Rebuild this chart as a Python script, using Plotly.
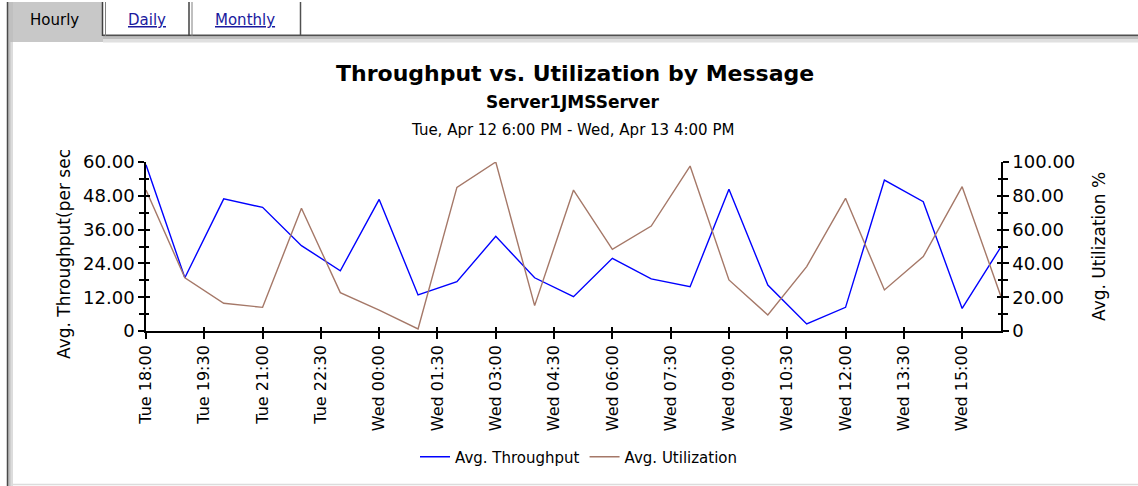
import plotly.graph_objects as go

# ---- data ----
times = [
    "2011-04-12 18:00", "2011-04-12 19:00", "2011-04-12 20:00", "2011-04-12 21:00",
    "2011-04-12 22:00", "2011-04-12 23:00", "2011-04-13 00:00", "2011-04-13 01:00",
    "2011-04-13 02:00", "2011-04-13 03:00", "2011-04-13 04:00", "2011-04-13 05:00",
    "2011-04-13 06:00", "2011-04-13 07:00", "2011-04-13 08:00", "2011-04-13 09:00",
    "2011-04-13 10:00", "2011-04-13 11:00", "2011-04-13 12:00", "2011-04-13 13:00",
    "2011-04-13 14:00", "2011-04-13 15:00", "2011-04-13 16:00",
]
throughput = [59.0, 18.9, 46.9, 43.9, 30.3, 21.4, 46.7, 12.8, 17.5, 33.6, 18.9, 12.2,
              25.8, 18.5, 15.7, 50.3, 16.3, 2.5, 8.4, 53.6, 45.9, 8.0, 29.9]
utilization = [83.4, 31.5, 16.4, 14.0, 72.6, 22.7, 12.4, 1.2, 85.0, 100.0, 15.0, 83.4,
               48.3, 62.1, 97.6, 30.2, 9.5, 38.1, 78.5, 24.3, 44.0, 85.4, 20.3]

tick_times = [
    "2011-04-12 18:00", "2011-04-12 19:30", "2011-04-12 21:00", "2011-04-12 22:30",
    "2011-04-13 00:00", "2011-04-13 01:30", "2011-04-13 03:00", "2011-04-13 04:30",
    "2011-04-13 06:00", "2011-04-13 07:30", "2011-04-13 09:00", "2011-04-13 10:30",
    "2011-04-13 12:00", "2011-04-13 13:30", "2011-04-13 15:00",
]
tick_labels = [
    "Tue 18:00", "Tue 19:30", "Tue 21:00", "Tue 22:30", "Wed 00:00", "Wed 01:30",
    "Wed 03:00", "Wed 04:30", "Wed 06:00", "Wed 07:30", "Wed 09:00", "Wed 10:30",
    "Wed 12:00", "Wed 13:30", "Wed 15:00",
]
left_tickvals = [0, 12, 24, 36, 48, 60]
left_ticktext = ["0", "12.00", "24.00", "36.00", "48.00", "60.00"]
right_tickvals = [0, 20, 40, 60, 80, 100]
right_ticktext = ["0", "20.00", "40.00", "60.00", "80.00", "100.00"]

# ---- layout geometry (pixels) ----
W, H = 1138, 486
L, R, T, B = 146, 1001, 162, 331
FONT = "DejaVu Sans"


def px(x):
    return (x - L) / (R - L)


def py(y):
    return (B - y) / (B - T)


fig = go.Figure()
fig.add_trace(go.Scatter(x=times, y=throughput, name="Avg. Throughput", mode="lines",
                         line=dict(color="#0000ff", width=1.4), yaxis="y"))
fig.add_trace(go.Scatter(x=times, y=utilization, name="Avg. Utilization", mode="lines",
                         line=dict(color="#a57868", width=1.4), yaxis="y2"))
# empty helper traces so the "inside tick" overlay axes are drawn
for xa, ya in (("x2", "y"), ("x", "y3"), ("x", "y4")):
    fig.add_trace(go.Scatter(x=[], y=[], xaxis=xa, yaxis=ya, showlegend=False,
                             hoverinfo="skip", mode="lines"))

axis_common = dict(showgrid=False, zeroline=False, showline=True, linecolor="black",
                   linewidth=1.5, ticks="outside", tickcolor="black", ticklen=6, tickwidth=1.5)
inside_common = dict(showgrid=False, zeroline=False, showline=False, ticks="inside",
                     tickcolor="black", ticklen=4, tickwidth=1.5, showticklabels=False)

fig.update_layout(
    width=W, height=H,
    margin=dict(l=L, r=W - R, t=T, b=H - B),
    paper_bgcolor="white", plot_bgcolor="white",
    font=dict(family=FONT, color="black"),
    showlegend=True,
    legend=dict(orientation="h", x=px(579), xanchor="center", y=py(457), yanchor="middle",
                font=dict(family=FONT, size=15, color="black"), bgcolor="rgba(0,0,0,0)",
                itemwidth=30, tracegroupgap=0),
    xaxis=dict(type="date", range=[times[0], times[-1]], tickmode="array",
               tickvals=tick_times, ticktext=tick_labels, tickangle=-90,
               tickfont=dict(family=FONT, size=16, color="black"), **axis_common),
    xaxis2=dict(type="date", range=[times[0], times[-1]], overlaying="x", anchor="y",
                side="bottom", tickmode="array", tickvals=tick_times, **inside_common),
    yaxis=dict(range=[0, 60], tickmode="array", tickvals=left_tickvals, ticktext=left_ticktext,
               tickfont=dict(family=FONT, size=18, color="black"),
               minor=dict(tickmode="linear", tick0=0, dtick=6, ticks="outside", ticklen=5,
                          tickcolor="black", tickwidth=1.5, showgrid=False),
               **axis_common),
    yaxis2=dict(range=[0, 100], overlaying="y", side="right", tickmode="array",
                tickvals=right_tickvals, ticktext=right_ticktext,
                tickfont=dict(family=FONT, size=18, color="black"),
                minor=dict(tickmode="linear", tick0=0, dtick=10, ticks="outside", ticklen=5,
                           tickcolor="black", tickwidth=1.5, showgrid=False),
                **axis_common),
    yaxis3=dict(range=[0, 60], overlaying="y", side="left", anchor="x", tickmode="array",
                tickvals=left_tickvals,
                minor=dict(tickmode="linear", tick0=0, dtick=6, ticks="inside", ticklen=3,
                           tickcolor="black", tickwidth=1.5, showgrid=False),
                **inside_common),
    yaxis4=dict(range=[0, 100], overlaying="y", side="right", anchor="x", tickmode="array",
                tickvals=right_tickvals,
                minor=dict(tickmode="linear", tick0=0, dtick=10, ticks="inside", ticklen=3,
                           tickcolor="black", tickwidth=1.5, showgrid=False),
                **inside_common),
)

shapes = []


def rect(x0, y0, x1, y1, fill, line_color=None, lw=0):
    shapes.append(dict(type="rect", xref="paper", yref="paper",
                       x0=px(x0), x1=px(x1), y0=py(y0), y1=py(y1),
                       fillcolor=fill, line=dict(width=lw, color=line_color or fill), layer="below"))


def line(x0, y0, x1, y1, color, lw=1):
    shapes.append(dict(type="line", xref="paper", yref="paper",
                       x0=px(x0), x1=px(x1), y0=py(y0), y1=py(y1),
                       line=dict(color=color, width=lw), layer="below"))


# selected "Hourly" tab
rect(7, 2, 103, 42, "#c8c8c8")
# panel left border (bevel)
rect(7, 2, 13, 486, "#c0c0c0")
rect(10.5, 42, 13, 486, "#dcdcdc")
line(7.5, 2, 7.5, 486, "#4a4a4a", 1.5)
# panel top border
line(103, 35.5, 1138, 35.5, "#505050", 2)
rect(103, 36.5, 1138, 39.5, "#bdbdbd")
rect(103, 39.5, 1138, 42.5, "#e0e0e0")
# tab separators
line(102.5, 2, 102.5, 36, "#404040", 1.5)
line(105.5, 2, 105.5, 36, "#808080", 1)
line(189, 2, 189, 36, "#404040", 1.5)
line(192, 2, 192, 36, "#808080", 1)
line(300.5, 2, 300.5, 36, "#505050", 1.5)
# bottom border
line(13, 484.5, 1138, 484.5, "#dcdcdc", 1.5)

fig.update_layout(shapes=shapes)

annotations = [
    dict(text="<b>Throughput vs. Utilization by Message</b>", x=px(575), y=py(73),
         font=dict(family=FONT, size=22, color="black")),
    dict(text="<b>Server1JMSServer</b>", x=px(572), y=py(102),
         font=dict(family=FONT, size=17, color="black")),
    dict(text="Tue, Apr 12 6:00 PM - Wed, Apr 13 4:00 PM", x=px(572), y=py(130),
         font=dict(family=FONT, size=15, color="black")),
    dict(text="Avg. Throughput(per sec", x=px(64), y=py(254), textangle=-90,
         font=dict(family=FONT, size=17, color="black")),
    dict(text="Avg. Utilization %", x=px(1099), y=py(247), textangle=-90,
         font=dict(family=FONT, size=17, color="black")),
    dict(text="Hourly", x=px(54), y=py(20),
         font=dict(family=FONT, size=15, color="black")),
    dict(text="<u>Daily</u>", x=px(147), y=py(20),
         font=dict(family=FONT, size=15, color="#1a1a9e")),
    dict(text="<u>Monthly</u>", x=px(245), y=py(20),
         font=dict(family=FONT, size=15, color="#1a1a9e")),
]
for a in annotations:
    a.update(xref="paper", yref="paper", xanchor="center", yanchor="middle", showarrow=False)
fig.update_layout(annotations=annotations)

fig.write_html("out.html", config={"displayModeBar": False},
               post_script="document.body.style.margin='0';")
